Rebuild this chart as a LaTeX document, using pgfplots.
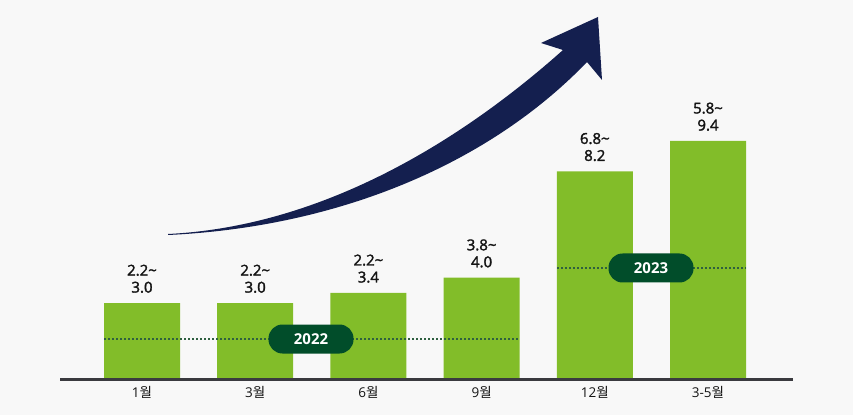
\documentclass[border=0pt]{standalone}
\usepackage{pgfplots}
\pgfplotsset{compat=1.18}
\usepackage{fontspec}
\setmainfont{Open Sans}
\newfontfamily\kr{Noto Sans CJK KR}
\newfontfamily\sbf{Open Sans}[FakeBold=2]
\definecolor{bgc}{HTML}{F8F8F8}
\definecolor{barg}{HTML}{82BD29}
\definecolor{pill}{HTML}{014D2A}
\definecolor{navy}{HTML}{141F4F}
\definecolor{basel}{HTML}{3A3A3F}
\definecolor{dotg}{HTML}{2F6040}
\definecolor{txt}{HTML}{141414}
\begin{document}
\begin{tikzpicture}
\useasboundingbox (0,0) rectangle (853pt,415pt);
\fill[bgc] (0,0) rectangle (853pt,415pt);
\begin{axis}[
  at={(0,0)}, anchor=south west,
  scale only axis, width=853pt, height=415pt,
  xmin=-1.2544, xmax=6.2809, ymin=-1.4213, ymax=14.9625,
  axis x line*=middle, axis y line=none,
  x axis line style={draw=none},
  xtick={0,1,2,3,4,5},
  xticklabels={1{\kr 월},3{\kr 월},6{\kr 월},9{\kr 월},12{\kr 월},3-5{\kr 월}},
  xtick style={draw=none}, ytick=\empty,
  xticklabel style={font=\fontsize{13.5}{15}\selectfont, text=txt, inner sep=0pt, yshift=-7pt},
  clip=false,
  /pgf/number format/assume math mode=true,
]
\addplot[ybar, bar width=76pt, fill=barg, draw=none,
  point meta=explicit,
  visualization depends on={y \as \yv},
  nodes near coords={\pgfmathprintnumber[fixed,fixed zerofill,precision=1]{\pgfplotspointmeta}\textasciitilde\\\pgfmathprintnumber[fixed,fixed zerofill,precision=1]{\yv}},
  nodes near coords style={align=center, anchor=south, inner sep=0pt, yshift=10pt,
    font=\sbf\fontsize{15}{17}\selectfont, text=txt},
] table[x=x, y=hi, meta=lo] {
x hi lo
0 3.0 2.2
1 3.0 2.2
2 3.4 2.2
3 4.0 3.8
4 8.2 6.8
5 9.4 5.8
};
\end{axis}
% baseline
\draw[basel, line width=3pt] (60pt,36pt) -- (793pt,36pt);
% dotted year lines
\draw[dotg, line width=1.6pt, dash pattern=on 1.6pt off 2.4pt] (104pt,76pt) -- (519pt,76pt);
\draw[dotg, line width=1.6pt, dash pattern=on 1.6pt off 2.4pt] (557pt,147pt) -- (746pt,147pt);
% pills
\node[fill=pill, rounded corners=14pt, minimum width=85pt, minimum height=29pt, inner sep=0pt,
  text=white, font=\bfseries\fontsize{15}{16}\selectfont] at (311pt,76pt) {2022};
\node[fill=pill, rounded corners=14pt, minimum width=85pt, minimum height=29pt, inner sep=0pt,
  text=white, font=\bfseries\fontsize{15}{16}\selectfont] at (651pt,147pt) {2023};
% arrow
\fill[navy] (168pt,181pt) .. controls (330pt,189pt) and (470pt,282pt) .. (563pt,365pt)
  -- (541pt,372pt) -- (598pt,398pt) -- (602pt,335pt) -- (587pt,353pt)
  .. controls (490pt,252pt) and (340pt,188pt) .. (168pt,180pt) -- cycle;
\end{tikzpicture}
\end{document}
